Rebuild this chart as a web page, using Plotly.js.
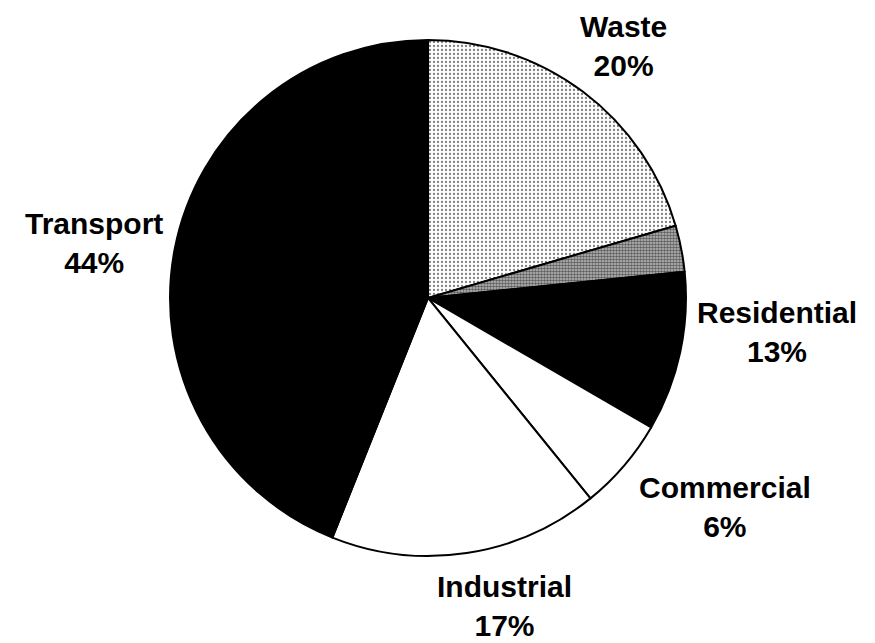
<!DOCTYPE html>
<html>
<head>
<meta charset="utf-8">
<script src="https://cdn.plot.ly/plotly-3.0.1.min.js"></script>
<style>html,body{margin:0;padding:0;background:#fff;}#chart{width:875px;height:643px;}</style>
</head>
<body>
<div id="chart"></div>
<script>
// Slices clockwise from 12 o'clock (unlabeled grey sliver is part of Residential 13%)
const sliceNames  = ["Waste", "Residential (grey)", "Residential", "Commercial", "Industrial", "Transport"];
const sliceValues = [20.5, 2.9, 10.0, 5.8, 16.9, 44.0];

// Printed labels
const labelNames    = ["Waste", "Transport", "Residential", "Commercial", "Industrial"];
const labelPercents = ["20%", "44%", "13%", "6%", "17%"];

const fills    = ["#ffffff", "#bdbdbd", "#000000", "#ffffff", "#ffffff", "#000000"];
const patShape = [".", ".", "", "", "", ""];
const patSize  = [4, 3, 8, 8, 8, 8];
const patSolid = [0.25, 0.55, 0.3, 0.3, 0.3, 0.3];
const patFg    = ["#000000", "#000000", "#000000", "#000000", "#000000", "#000000"];

const labelPos = [[0.713, 0.928], [0.1074, 0.622], [0.888, 0.483], [0.8286, 0.211], [0.5771, 0.057]];

const trace = {
  type: "pie",
  labels: sliceNames,
  values: sliceValues,
  sort: false,
  direction: "clockwise",
  rotation: 0,
  textinfo: "none",
  hoverinfo: "skip",
  showlegend: false,
  domain: {x: [0.1943, 0.7840], y: [0.1354, 0.9378]},
  marker: {
    colors: fills,
    line: {color: "#000000", width: 2},
    pattern: {shape: patShape, size: patSize, solidity: patSolid, fgcolor: patFg, bgcolor: fills, fillmode: "overlay"}
  }
};

const annotations = labelNames.map((n, i) => ({
  text: n + "<br>" + labelPercents[i],
  x: labelPos[i][0], y: labelPos[i][1],
  xref: "paper", yref: "paper",
  xanchor: "center", yanchor: "middle",
  showarrow: false,
  font: {family: "Liberation Sans, Arial, sans-serif", size: 30, color: "#000000", weight: "bold"}
}));

const layout = {
  width: 875, height: 643,
  margin: {l: 0, r: 0, t: 0, b: 0},
  paper_bgcolor: "#ffffff",
  plot_bgcolor: "#ffffff",
  annotations: annotations
};

Plotly.newPlot("chart", [trace], layout, {displayModeBar: false, staticPlot: true});
</script>
</body>
</html>
